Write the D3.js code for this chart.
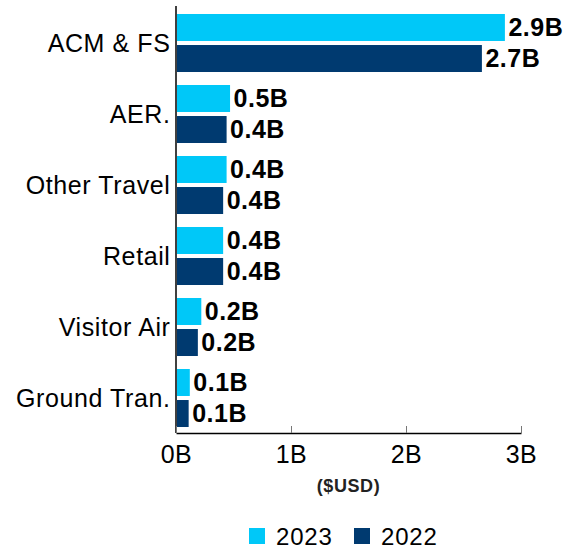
<!DOCTYPE html>
<html>
<head>
<meta charset="utf-8">
<script src="https://cdn.jsdelivr.net/npm/d3@7"></script>
<style>
	body { margin: 0; background: #fff; }
	text { font-family: Arial, "Liberation Sans", sans-serif; }
</style>
</head>
<body>
<script>
let width = 563;
let height = 548;

// data
let categories = ['ACM & FS', 'AER.', 'Other Travel', 'Retail', 'Visitor Air', 'Ground Tran.'];
let years = ['2023', '2022'];
let values2023 = [2.86, 0.47, 0.44, 0.41, 0.22, 0.12];
let values2022 = [2.66, 0.44, 0.41, 0.41, 0.19, 0.11];
let xTicks = [0, 1, 2, 3];
let colors = ['#00c8f8', '#003a70'];

let series = [values2023, values2022];

let svg = d3.select('body').append('svg')
	.attr('width', width)
	.attr('height', height);

let x = d3.scaleLinear()
	.domain([0, 3])
	.range([176, 521]);

let y = d3.scaleBand()
	.domain(categories)
	.range([7.5, 433.5])
	.paddingInner(0.183)
	.paddingOuter(0.0915);

let yInner = d3.scaleBand()
	.domain(years)
	.range([0, y.bandwidth()])
	.paddingInner(0.13);

let fmt = v => v.toFixed(1) + 'B';

// bars
let groups = svg.selectAll('.group')
	.data(categories)
	.enter().append('g')
	.attr('class', 'group')
	.attr('transform', d => 'translate(0,' + y(d) + ')');

groups.each(function (cat, i) {
	let g = d3.select(this);
	years.forEach((yr, j) => {
		let v = series[j][i];
		g.append('rect')
			.attr('x', x(0) + 1)
			.attr('y', yInner(yr))
			.attr('width', x(v) - x(0) - 1)
			.attr('height', yInner.bandwidth())
			.style('fill', colors[j]);
		g.append('text')
			.attr('x', x(v) + 3.5)
			.attr('y', yInner(yr) + yInner.bandwidth() / 2)
			.attr('dy', '0.36em')
			.style('font-size', '25px')
			.style('font-weight', 'bold')
			.style('letter-spacing', '0.5px')
			.style('fill', '#000')
			.text(fmt(v));
	});
});

// category labels
svg.selectAll('.cat')
	.data(categories)
	.enter().append('text')
	.attr('class', 'cat')
	.attr('x', 170.5)
	.attr('y', d => y(d) + y.bandwidth() / 2)
	.attr('dy', '0.36em')
	.attr('text-anchor', 'end')
	.style('font-size', '25px')
	.style('letter-spacing', '0.6px')
	.style('fill', '#000')
	.text(d => d);

// y axis line
svg.append('line')
	.attr('x1', x(0))
	.attr('x2', x(0))
	.attr('y1', 6)
	.attr('y2', 433)
	.style('stroke', '#000')
	.style('stroke-width', 1.5);

// x axis
let xAxis = svg.append('g')
	.attr('transform', 'translate(0,433)')
	.call(d3.axisBottom(x)
		.tickValues(xTicks)
		.tickSizeInner(-7)
		.tickSizeOuter(0)
		.tickPadding(12)
		.tickFormat(d => d + 'B'));

xAxis.select('.domain').style('stroke', '#000').style('stroke-width', 1.5);
xAxis.selectAll('.tick line').style('stroke', '#777').style('stroke-width', 1);
xAxis.selectAll('.tick text')
	.style('font-size', '25px')
	.style('letter-spacing', '0.5px')
	.style('fill', '#000')
	.attr('font-family', null);

svg.append('text')
	.attr('x', (x(0) + x(3)) / 2)
	.attr('y', 492)
	.attr('text-anchor', 'middle')
	.style('font-size', '18px')
	.style('font-weight', 'bold')
	.style('letter-spacing', '0.6px')
	.style('fill', '#222')
	.text('($USD)');

// legend
let legendX = [249, 354];
let legend = svg.selectAll('.legend')
	.data(years)
	.enter().append('g')
	.attr('class', 'legend')
	.attr('transform', (d, i) => 'translate(' + legendX[i] + ',528)');

legend.append('rect')
	.attr('width', 16)
	.attr('height', 16)
	.style('fill', (d, i) => colors[i]);

legend.append('text')
	.attr('x', 27)
	.attr('y', 16.5)
	.style('font-size', '24px')
	.style('letter-spacing', '0.8px')
	.style('fill', '#000')
	.text(d => d);
</script>
</body>
</html>
